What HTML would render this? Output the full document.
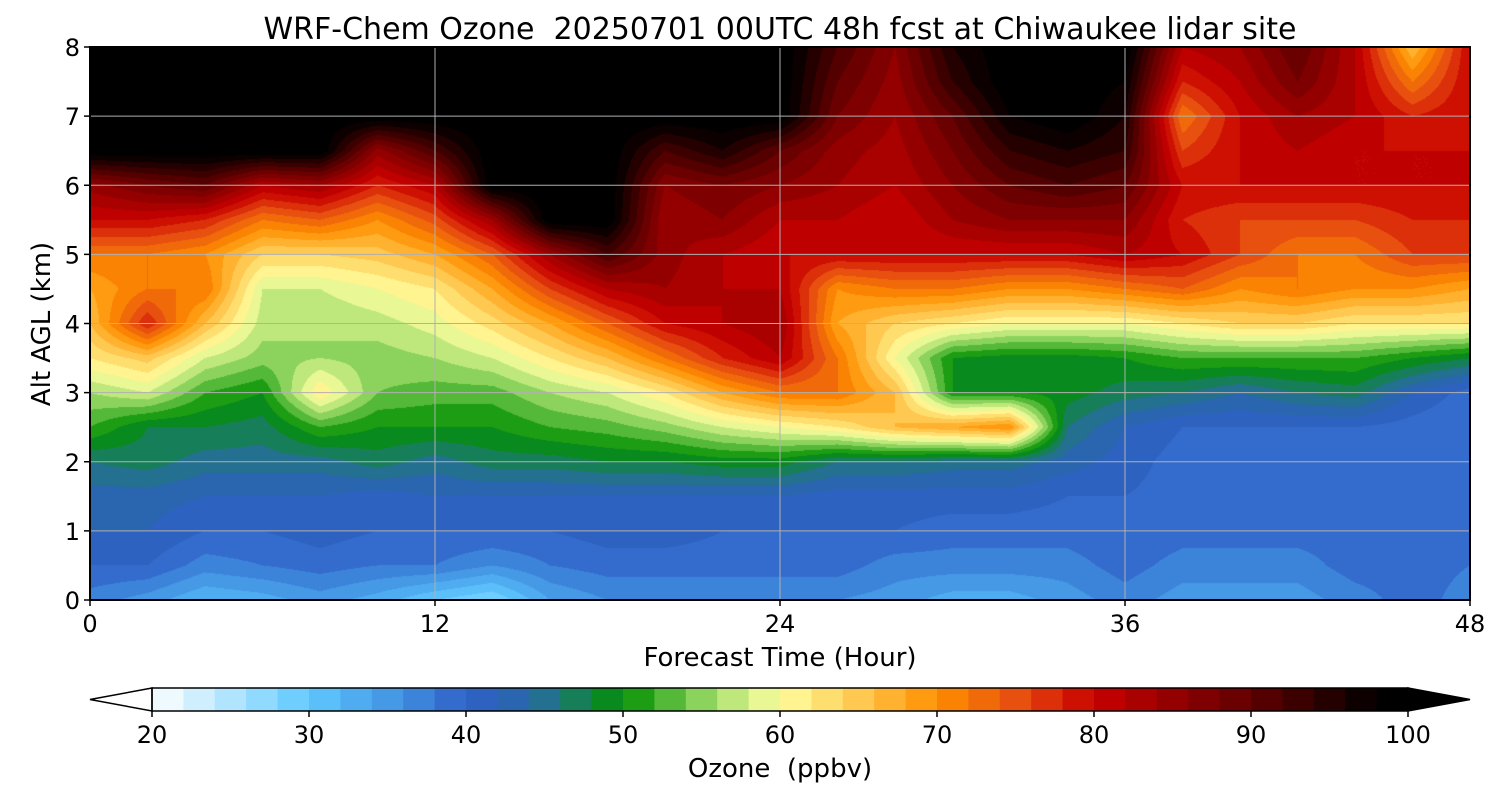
<!DOCTYPE html>
<html><head><meta charset="utf-8"><style>
body{margin:0;background:#fff;width:1500px;height:800px;overflow:hidden;font-family:"DejaVu Sans","Liberation Sans",sans-serif}
#cv{position:absolute;left:90px;top:47px}
#ov{position:absolute;left:0;top:0}
text{white-space:pre}
</style></head><body>
<canvas id="cv" width="1380" height="553"></canvas>
<svg id="ov" width="1500" height="800" xml:space="preserve"></svg>
<script>
const times=[0,2,4,6,8,10,12,14,16,18,20,22,24,26,28,30,32,34,36,38,40,42,44,46,48];
const heights=[0,0.5,1,1.5,2,2.5,3,3.5,4,4.5,5,5.5,6,6.5,7,7.5,8];
const ozone=[
[37,40,42,43,46,52,56,62,66,68,72,80,85,100,100,100,100],
[35,40,42,43,47,48,58,65,78,72,72,80,88,100,100,100,100],
[32,37,40,42,45,48,52,58,66,72,70,78,90,100,100,100,100],
[33,38,40,42,45,47,50,55,57,58,64,72,82,100,100,100,100],
[35,39,41,42,45,52,62,56,56,58,64,74,84,100,100,100,100],
[33,38,40,41,47,50,54,55,57,60,65,70,78,85,100,100,100],
[30,38,40,42,45,50,53,56,59,62,68,75,82,92,100,100,100],
[28,36,40,42,47,50,53,58,63,68,74,84,100,100,100,100,100],
[34,38,40,42,47,52,56,62,68,76,84,100,100,100,100,100,100],
[36,39,41,42,48,53,58,66,74,82,92,100,100,100,100,100,100],
[36,39,41,42,48,55,62,72,80,84,85,84,86,92,100,100,100],
[36,39,40,42,49,58,68,78,82,82,82,86,88,96,100,100,100],
[36,39,40,42,49,60,72,82,84,82,80,82,86,90,100,100,100],
[36,39,40,41,46,62,72,72,68,70,80,82,84,85,88,90,92],
[35,37,40,41,46,66,66,60,64,72,80,80,82,83,84,85,86],
[33,37,39,41,45,68,50,50,62,72,80,84,86,88,90,94,96],
[33,37,39,41,45,70,50,49,60,70,80,86,90,94,98,100,100],
[35,37,39,40,43,46,49,49,60,70,80,86,92,96,100,100,100],
[37,39,40,40,41,42,47,50,60,72,82,86,90,94,96,98,100],
[35,37,39,39,39,40,46,52,62,74,80,78,80,76,72,78,82],
[35,37,39,39,39,40,44,52,64,70,76,76,80,80,80,82,84],
[35,37,39,39,39,40,46,52,64,72,72,76,80,82,84,88,90],
[37,39,39,39,39,40,47,52,62,70,72,76,80,80,82,82,82],
[39,39,39,39,39,39,42,50,62,70,76,78,80,80,78,72,66],
[37,38,38,38,38,38,39,48,62,68,76,78,80,80,80,80,80]];
const xTicks=[0,12,24,36,48];
const yTicks=[0,1,2,3,4,5,6,7,8];
const cbTicks=[20,30,40,50,60,70,80,90,100];
const stops=[[20,'#ffffff'],[30,'#60c8ff'],[36,'#4090e0'],[40,'#3060c8'],[44,'#2868a8'],[46,'#1e7878'],[50,'#009000'],[56,'#a8e070'],[60,'#ffffa0'],[65,'#ffc850'],[70,'#ff9000'],[75,'#e85010'],[80,'#c80000'],[90,'#600000'],[98,'#000000'],[100,'#000000']];
function hex(h){return [1,3,5].map(i=>parseInt(h.substr(i,2),16));}
const st=stops.map(s=>[s[0],hex(s[1])]);
function cmap(v){
  v=Math.max(20,Math.min(100,v));
  for(let i=0;i<st.length-1;i++){if(v<=st[i+1][0]){const t=(v-st[i][0])/(st[i+1][0]-st[i][0]);return st[i][1].map((c,k)=>Math.round(c+(st[i+1][1][k]-c)*t));}}
  return st[st.length-1][1];
}
const L=90,T=47,W=1380,H=553;
const xs=t=>L+t/48*W, ys=h=>T+H-h/8*H;
const cv=document.getElementById('cv'),ctx=cv.getContext('2d');
const img=ctx.createImageData(W,H);
function idx(arr,v){let i=0;while(i<arr.length-2&&v>arr[i+1])i++;return [i,(v-arr[i])/(arr[i+1]-arr[i])];}
for(let py=0;py<H;py++){
  const h=(H-py-0.5)/H*8;const [j,fy]=idx(heights,h);
  for(let px=0;px<W;px++){
    const t=(px+0.5)/W*48;const [i,fx]=idx(times,t);
    const v=ozone[i][j]*(1-fx)*(1-fy)+ozone[i+1][j]*fx*(1-fy)+ozone[i][j+1]*(1-fx)*fy+ozone[i+1][j+1]*fx*fy;
    let q=Math.floor((v-20)/2);q=Math.max(0,Math.min(39,q));
    const c=cmap(20+q*2+1);const o=(py*W+px)*4;
    img.data[o]=c[0];img.data[o+1]=c[1];img.data[o+2]=c[2];img.data[o+3]=255;
  }
}
ctx.putImageData(img,0,0);
const svg=document.getElementById('ov');const NS='http://www.w3.org/2000/svg';
function el(tag,a,txt){const e=document.createElementNS(NS,tag);for(const k in a)e.setAttribute(k,a[k]);if(txt!==undefined)e.textContent=txt;svg.appendChild(e);return e;}
xTicks.forEach(t=>{
  const g=el('line',{x1:xs(t),x2:xs(t),y1:T,y2:T+H,stroke:'#b0b0b0','stroke-width':1});
  
  
  const tk=el('line',{x1:xs(t),x2:xs(t),y1:T+H,y2:T+H+6,stroke:'#000','stroke-width':1.5});
  
  
  const lb=el('text',{x:xs(t),y:T+H+32,'text-anchor':'middle','font-size':24},String(t));
  
  
});
yTicks.forEach(h=>{
  const g=el('line',{x1:L,x2:L+W,y1:ys(h),y2:ys(h),stroke:'#b0b0b0','stroke-width':1});
  
  
  const tk=el('line',{x1:L-6,x2:L,y1:ys(h),y2:ys(h),stroke:'#000','stroke-width':1.5});
  
  
  const lb=el('text',{x:L-10,y:ys(h)+9,'text-anchor':'end','font-size':24},String(h));
  
  
});
const fr=el('rect',{x:L,y:T,width:W,height:H,fill:'none',stroke:'#000','stroke-width':2});


const ti=el('text',{x:780,y:39,'text-anchor':'middle','font-size':30},'WRF-Chem Ozone  20250701 00UTC 48h fcst at Chiwaukee lidar site');


const xt=el('text',{x:780,y:666,'text-anchor':'middle','font-size':26},'Forecast Time (Hour)');


const yt=el('text',{x:50,y:324,'text-anchor':'middle','font-size':26,transform:'rotate(-90 50 324)'},'Alt AGL (km)');


const cbL=152,cbR=1408,cbT=688,cbB=711;const cx=v=>cbL+(v-20)/80*(cbR-cbL);
for(let q=0;q<40;q++){
  const c=cmap(20+q*2+1);
  const r=el('rect',{x:cx(20+q*2),y:cbT,width:(cbR-cbL)/40+0.6,height:cbB-cbT,fill:`rgb(${c})`});
  
  
}
const lt=el('polygon',{points:`${cbL},${cbT} 90,${(cbT+cbB)/2} ${cbL},${cbB}`,fill:'#ffffff',stroke:'#000','stroke-width':1.5});


const rt=el('polygon',{points:`${cbR},${cbT} 1470,${(cbT+cbB)/2} ${cbR},${cbB}`,fill:'#000000',stroke:'#000','stroke-width':1.5});


const cbf=el('rect',{x:cbL,y:cbT,width:cbR-cbL,height:cbB-cbT,fill:'none',stroke:'#000','stroke-width':1.5});


cbTicks.forEach(v=>{
  const tk=el('line',{x1:cx(v),x2:cx(v),y1:cbB,y2:cbB+6,stroke:'#000','stroke-width':1.5});
  
  
  const lb=el('text',{x:cx(v),y:743,'text-anchor':'middle','font-size':24},String(v));
  
  
});
const cbt=el('text',{x:780,y:777,'text-anchor':'middle','font-size':26},'Ozone  (ppbv)');


</script>
</body></html>
